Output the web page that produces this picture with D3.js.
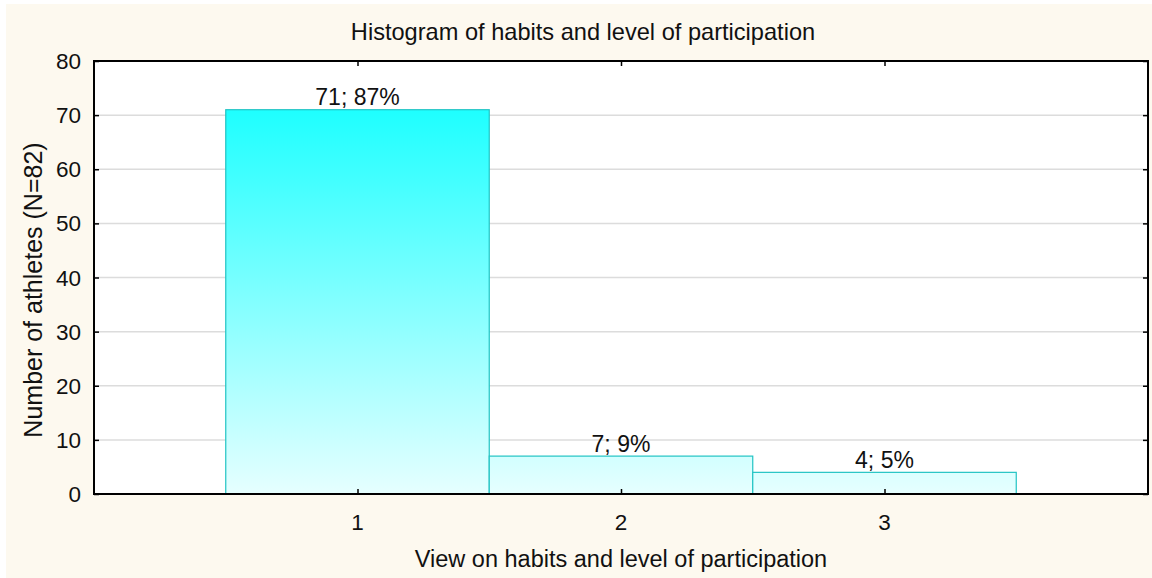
<!DOCTYPE html>
<html>
<head>
<meta charset="utf-8">
<script src="https://cdn.jsdelivr.net/npm/d3@7"></script>
<style>
  html, body { margin: 0; padding: 0; background: #fff; }
  svg text { font-family: "Liberation Sans", Arial, sans-serif; fill: #111; }
</style>
</head>
<body>
<svg id="chart"></svg>
<script>
const width = 1152;
const height = 578;

// data
const categories = [1, 2, 3];
const counts = [71, 7, 4];
const percents = [87, 9, 5];
const yTicks = [0, 10, 20, 30, 40, 50, 60, 70, 80];

const margin = { left: 94, right: 1148, top: 61, bottom: 494 };

const svg = d3.select("#chart")
    .attr("width", width)
    .attr("height", height);

// cream page background
svg.append("rect")
    .attr("x", 6).attr("y", 4)
    .attr("width", width - 6).attr("height", height - 4)
    .attr("fill", "#fdf9ef");

const x = d3.scaleLinear().domain([0, 4]).range([margin.left, margin.right]);
const y = d3.scaleLinear().domain([0, 80]).range([margin.bottom, margin.top]);

// plot area
svg.append("rect")
    .attr("x", margin.left).attr("y", margin.top)
    .attr("width", margin.right - margin.left)
    .attr("height", margin.bottom - margin.top)
    .attr("fill", "#fff");

// gridlines
svg.append("g")
    .selectAll("line")
    .data(yTicks.filter(t => t > 0 && t < 80))
    .join("line")
    .attr("x1", margin.left).attr("x2", margin.right)
    .attr("y1", d => y(d)).attr("y2", d => y(d))
    .attr("stroke", "#dcdcdc")
    .attr("stroke-width", 1.5);

// gradient, shared by all bars in plot coordinates
const grad = svg.append("defs").append("linearGradient")
    .attr("id", "barGrad")
    .attr("gradientUnits", "userSpaceOnUse")
    .attr("x1", 0).attr("x2", 0)
    .attr("y1", y(71)).attr("y2", y(0));
grad.append("stop").attr("offset", 0).attr("stop-color", "#1effff");
grad.append("stop").attr("offset", 1).attr("stop-color", "#e6ffff");

svg.append("g")
    .selectAll("rect")
    .data(categories)
    .join("rect")
    .attr("x", (d, i) => x(d - 0.5))
    .attr("y", (d, i) => y(counts[i]))
    .attr("width", d => x(d + 0.5) - x(d - 0.5))
    .attr("height", (d, i) => y(0) - y(counts[i]))
    .attr("fill", "url(#barGrad)")
    .attr("stroke", "#22c4c4")
    .attr("stroke-width", 1.2);

// value labels
svg.append("g")
    .selectAll("text")
    .data(categories)
    .join("text")
    .attr("x", d => x(d))
    .attr("y", (d, i) => y(counts[i]) - 4.5)
    .attr("text-anchor", "middle")
    .attr("font-size", "23px")
    .text((d, i) => `${counts[i]}; ${percents[i]}%`);

// y axis (left, ticks inward) and right axis
const yLeft = svg.append("g")
    .attr("transform", `translate(${margin.left},0)`)
    .call(d3.axisRight(y).tickValues(yTicks).tickSize(5).tickFormat(""));
yLeft.select(".domain").remove();
yLeft.selectAll("line").attr("stroke", "#000").attr("stroke-width", 1.5);

const yRight = svg.append("g")
    .attr("transform", `translate(${margin.right},0)`)
    .call(d3.axisLeft(y).tickValues(yTicks).tickSize(5).tickFormat(""));
yRight.select(".domain").remove();
yRight.selectAll("line").attr("stroke", "#000").attr("stroke-width", 1.5);

svg.append("g")
    .selectAll("text")
    .data(yTicks)
    .join("text")
    .attr("x", 81)
    .attr("y", d => y(d))
    .attr("dy", "0.36em")
    .attr("text-anchor", "end")
    .attr("font-size", "22.5px")
    .text(d => d);

// x axis (bottom, ticks inward) and top
const xBottom = svg.append("g")
    .attr("transform", `translate(0,${margin.bottom})`)
    .call(d3.axisTop(x).tickValues(categories).tickSize(5).tickFormat(""));
xBottom.select(".domain").remove();
xBottom.selectAll("line").attr("stroke", "#000").attr("stroke-width", 1.5);

const xTop = svg.append("g")
    .attr("transform", `translate(0,${margin.top})`)
    .call(d3.axisBottom(x).tickValues(categories).tickSize(5).tickFormat(""));
xTop.select(".domain").remove();
xTop.selectAll("line").attr("stroke", "#000").attr("stroke-width", 1.5);

svg.append("g")
    .selectAll("text")
    .data(categories)
    .join("text")
    .attr("x", d => x(d))
    .attr("y", 530)
    .attr("text-anchor", "middle")
    .attr("font-size", "22.5px")
    .text(d => d);

// frame
svg.append("rect")
    .attr("x", margin.left).attr("y", margin.top)
    .attr("width", margin.right - margin.left)
    .attr("height", margin.bottom - margin.top)
    .attr("fill", "none")
    .attr("stroke", "#000")
    .attr("stroke-width", 2);

// titles
svg.append("text")
    .attr("x", 583).attr("y", 40)
    .attr("text-anchor", "middle")
    .attr("font-size", "23.6px")
    .text("Histogram of habits and level of participation");

svg.append("text")
    .attr("x", 621).attr("y", 567)
    .attr("text-anchor", "middle")
    .attr("font-size", "23.5px")
    .text("View on habits and level of participation");

svg.append("text")
    .attr("transform", "translate(42,290) rotate(-90)")
    .attr("text-anchor", "middle")
    .attr("font-size", "25px")
    .text("Number of athletes (N=82)");
</script>
</body>
</html>
